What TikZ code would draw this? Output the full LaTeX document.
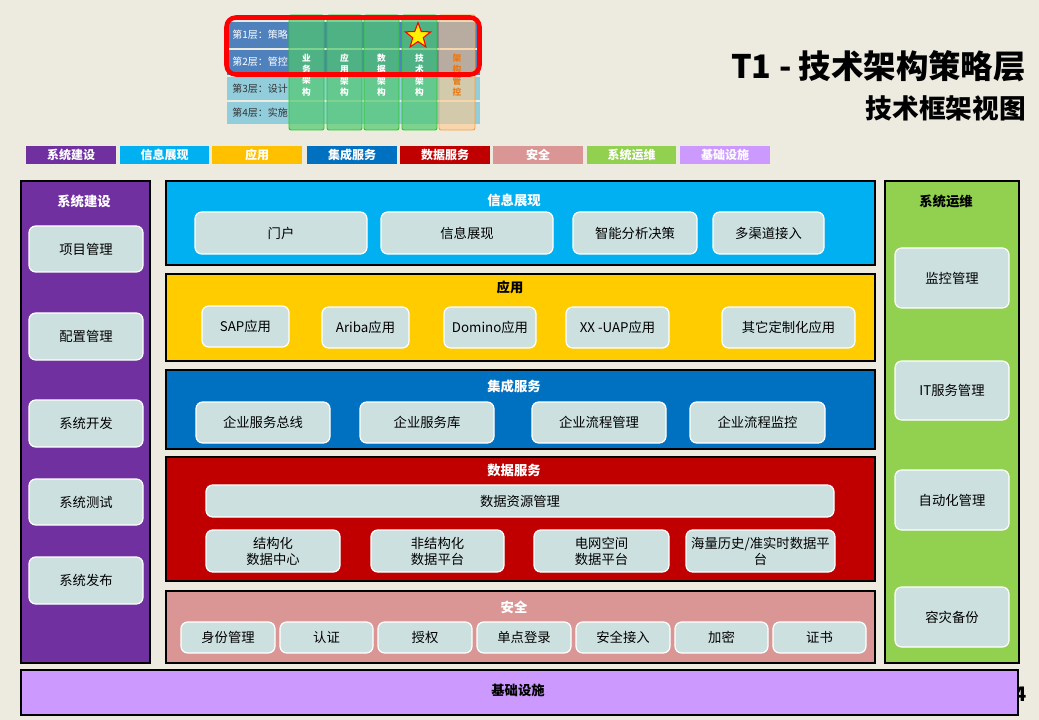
\documentclass[tikz,border=0pt]{standalone}
\usepackage{fontspec}
\setmainfont{Noto Sans CJK SC}
\usetikzlibrary{shapes.geometric}
\definecolor{bg}{RGB}{237,235,224}
\definecolor{cPurple}{RGB}{112,48,160}
\definecolor{cCyan}{RGB}{0,176,240}
\definecolor{cGold}{RGB}{255,192,0}
\definecolor{cYellow}{RGB}{255,204,0}
\definecolor{cBlue}{RGB}{0,112,192}
\definecolor{cRed}{RGB}{192,0,0}
\definecolor{cPink}{RGB}{218,150,148}
\definecolor{cGreen}{RGB}{146,208,80}
\definecolor{cLilac}{RGB}{204,153,255}
\definecolor{itemc}{RGB}{205,224,224}
\definecolor{rowdark}{RGB}{79,129,189}
\definecolor{rowlight}{RGB}{146,205,220}
\definecolor{colgreen}{RGB}{80,200,110}
\definecolor{colline}{RGB}{40,200,40}
\definecolor{colorange}{RGB}{255,200,140}
\definecolor{orangeline}{RGB}{250,160,60}
\definecolor{orangetext}{RGB}{235,120,20}
\newcommand\rbox[7]{\node[#1, minimum width={(#4-#2)*0.75pt}, minimum height={(#5-#3)*0.75pt}] (#6) at ({(#2+#4)/2},{(#3+#5)/2}) {#7};}
\tikzset{
  panel/.style={draw=black, line width=0.9pt, inner sep=0pt, outer sep=0pt},
  item/.style={draw=white, line width=0.9pt, fill=itemc, rounded corners=5pt, inner sep=0pt, outer sep=0pt, align=center, font=\fontsize{10}{12}\selectfont},
  legend/.style={inner sep=0pt, outer sep=0pt, text=white, font=\fontsize{9}{11}\selectfont\bfseries},
  ptitle/.style={inner sep=0pt, font=\fontsize{10}{12}\selectfont\bfseries},
  row/.style={inner sep=0pt, outer sep=0pt},
  rowtext/.style={anchor=west, inner sep=0pt, font=\fontsize{7.5}{8.5}\selectfont},
  gcol/.style={draw=colline, line width=0.7pt, fill=colgreen, fill opacity=0.7, rounded corners=1.5pt, inner sep=0pt, outer sep=0pt},
  ocol/.style={draw=orangeline, line width=0.7pt, fill=colorange, fill opacity=0.6, rounded corners=1.5pt, inner sep=0pt, outer sep=0pt},
  coltext/.style={align=center, inner sep=0pt, font=\fontsize{6.5}{8.6}\selectfont\bfseries},
}
\begin{document}
\begin{tikzpicture}[x=0.75pt, y=-0.75pt]
\useasboundingbox[fill=bg] (0,0) rectangle (1039,720);

% ---- thumbnail ----
\rbox{row, fill=rowdark}{227}{22}{480}{48}{r1}{}
\rbox{row, fill=rowdark}{227}{50}{480}{75}{r2}{}
\rbox{row, fill=rowlight}{227}{77}{480}{100}{r3}{}
\rbox{row, fill=rowlight}{227}{102}{480}{124}{r4}{}
\node[rowtext, text=white] (t1) at (232,35) {第1层：策略};
\node[rowtext, text=white] (t2) at (232,62) {第2层：管控};
\node[rowtext, text=black!80] (t3) at (232,88.5) {第3层：设计};
\node[rowtext, text=black!80] (t4) at (232,113) {第4层：实施};
\rbox{gcol}{289}{15}{324}{130}{c1}{}
\rbox{gcol}{327}{15}{362}{130}{c2}{}
\rbox{gcol}{364}{15}{399}{130}{c3}{}
\rbox{gcol}{402}{15}{437}{130}{c4}{}
\rbox{ocol}{439}{15}{475}{130}{c5}{}
\node[coltext, text=white] (l1) at (306.5,75) {业\\务\\架\\构};
\node[coltext, text=white] (l2) at (344.5,75) {应\\用\\架\\构};
\node[coltext, text=white] (l3) at (381.5,75) {数\\据\\架\\构};
\node[coltext, text=white] (l4) at (419.5,75) {技\\术\\架\\构};
\node[coltext, text=orangetext] (l5) at (457,75) {架\\构\\管\\控};
\node[star, star points=5, star point ratio=2.4, fill=yellow, draw=red, line width=0.8pt, minimum size=20pt, inner sep=0pt] (star) at (418,36) {};
\draw[red, line width=3.4pt, rounded corners=7pt] (226.5,17.5) rectangle (479.5,74.5);

% ---- titles ----
\node[anchor=east, inner sep=0pt, font=\fontsize{24.3}{29}\selectfont\bfseries] (title) at (1026,66) {T1 - 技术架构策略层};
\node[anchor=east, inner sep=0pt, font=\fontsize{20}{24}\selectfont\bfseries] (subtitle) at (1026,108) {技术框架视图};

% ---- legend ----
\rbox{legend, fill=cPurple}{26}{146}{116}{164}{g1}{系统建设}
\rbox{legend, fill=cCyan}{120}{146}{209}{164}{g2}{信息展现}
\rbox{legend, fill=cGold}{212}{146}{302}{164}{g3}{应用}
\rbox{legend, fill=cBlue}{307}{146}{397}{164}{g4}{集成服务}
\rbox{legend, fill=cRed}{400}{146}{490}{164}{g5}{数据服务}
\rbox{legend, fill=cPink}{493}{146}{583}{164}{g6}{安全}
\rbox{legend, fill=cGreen}{587}{146}{676}{164}{g7}{系统运维}
\rbox{legend, fill=cLilac}{680}{146}{770}{164}{g8}{基础设施}

% ---- left column ----
\rbox{panel, fill=cPurple}{21}{181}{150}{663}{pl}{}
\node[ptitle, text=white] (plt) at (84,201) {系统建设};
\rbox{item}{29}{226}{143}{272}{a1}{项目管理}
\rbox{item}{29}{313}{143}{360}{a2}{配置管理}
\rbox{item}{29}{400}{143}{447}{a3}{系统开发}
\rbox{item}{29}{479}{143}{525}{a4}{系统测试}
\rbox{item}{29}{557}{143}{604}{a5}{系统发布}

% ---- right column ----
\rbox{panel, fill=cGreen}{885}{181}{1019}{663}{pr}{}
\node[ptitle, text=black] (prt) at (946,201) {系统运维};
\rbox{item}{895}{248}{1009}{308}{b1}{监控管理}
\rbox{item}{895}{361}{1009}{420}{b2}{IT服务管理}
\rbox{item}{895}{470}{1009}{530}{b3}{自动化管理}
\rbox{item}{895}{587}{1009}{647}{b4}{容灾备份}

% ---- 信息展现 ----
\rbox{panel, fill=cCyan}{166}{181}{875}{265}{p1}{}
\node[ptitle, text=white] (p1t) at (514,200) {信息展现};
\rbox{item}{195}{212}{367}{254}{i1}{门户}
\rbox{item}{381}{212}{553}{254}{i2}{信息展现}
\rbox{item}{573}{212}{697}{254}{i3}{智能分析决策}
\rbox{item}{713}{212}{824}{254}{i4}{多渠道接入}

% ---- 应用 ----
\rbox{panel, fill=cYellow}{166}{274}{875}{361}{p2}{}
\node[ptitle, text=black] (p2t) at (510,287) {应用};
\rbox{item}{202}{306}{289}{347}{y1}{SAP应用}
\rbox{item}{322}{307}{409}{348}{y2}{Ariba应用}
\rbox{item}{444}{307}{536}{348}{y3}{Domino应用}
\rbox{item}{566}{307}{669}{348}{y4}{XX -UAP应用}
\rbox{item}{722}{307}{855}{348}{y5}{其它定制化应用}

% ---- 集成服务 ----
\rbox{panel, fill=cBlue}{166}{370}{875}{449}{p3}{}
\node[ptitle, text=white] (p3t) at (514,386) {集成服务};
\rbox{item}{196}{402}{330}{443}{s1}{企业服务总线}
\rbox{item}{360}{402}{494}{443}{s2}{企业服务库}
\rbox{item}{532}{402}{666}{443}{s3}{企业流程管理}
\rbox{item}{690}{402}{825}{443}{s4}{企业流程监控}

% ---- 数据服务 ----
\rbox{panel, fill=cRed}{166}{457}{875}{581}{p4}{}
\node[ptitle, text=white] (p4t) at (514,470) {数据服务};
\rbox{item}{206}{485}{834}{517}{d0}{数据资源管理}
\rbox{item}{206}{530}{340}{572}{d1}{结构化\\数据中心}
\rbox{item}{371}{530}{504}{572}{d2}{非结构化\\数据平台}
\rbox{item}{534}{530}{669}{572}{d3}{电网空间\\数据平台}
\rbox{item}{686}{530}{835}{572}{d4}{海量历史/准实时数据平\\台}

% ---- 安全 ----
\rbox{panel, fill=cPink}{166}{591}{875}{663}{p5}{}
\node[ptitle, text=white] (p5t) at (514,607) {安全};
\rbox{item}{181}{622}{275}{653}{e1}{身份管理}
\rbox{item}{280}{622}{373}{653}{e2}{认证}
\rbox{item}{378}{622}{472}{653}{e3}{授权}
\rbox{item}{477}{622}{571}{653}{e4}{单点登录}
\rbox{item}{576}{622}{670}{653}{e5}{安全接入}
\rbox{item}{675}{622}{768}{653}{e6}{加密}
\rbox{item}{773}{622}{866}{653}{e7}{证书}

% ---- 基础设施 ----
\node[anchor=east, inner sep=0pt, font=\fontsize{15}{18}\selectfont\bfseries] (pg) at (1027,694) {4};
\rbox{panel, fill=cLilac}{21}{670}{1018}{715}{p6}{}
\node[ptitle, text=black] (p6t) at (518,690) {基础设施};
\end{tikzpicture}
\end{document}
